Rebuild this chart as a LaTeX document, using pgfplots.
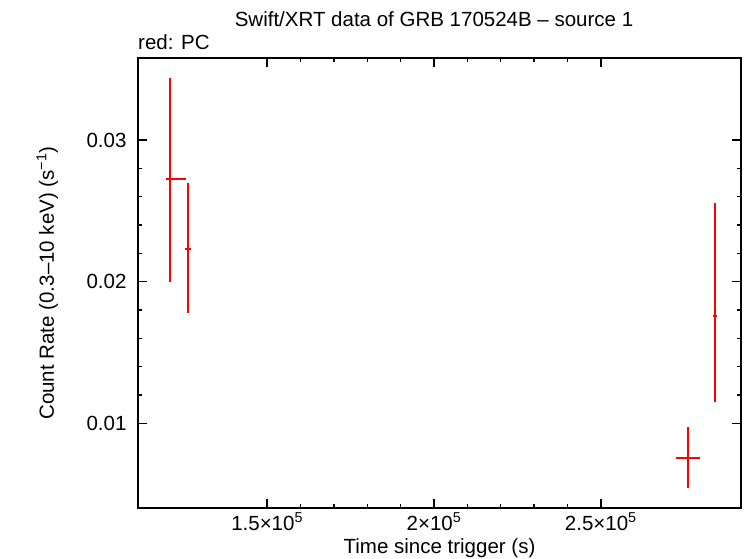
\documentclass[border=0pt]{standalone}
\usepackage{fontspec}
\setmainfont{Liberation Sans}
\usepackage{pgfplots}
\pgfplotsset{compat=1.18}
\begin{document}
\begin{tikzpicture}[x=1pt,y=1pt]
\useasboundingbox (-138pt,-50pt) rectangle (608pt,508pt);
\begin{axis}[
  at={(0pt,0pt)}, anchor=south west,
  scale only axis, width=603pt, height=450pt,
  xmin=111300, xmax=292000, ymin=0.00403, ymax=0.03579,
  axis line style={line width=1.3pt},
  tick style={line width=1.3pt, black},
  tick align=inside,
  major tick length=9pt, minor tick length=4.5pt,
  xtick={150000,200000,250000},
  xticklabels={1.5×10\textsuperscript{5},2×10\textsuperscript{5},2.5×10\textsuperscript{5}},
  scaled x ticks=false, scaled y ticks=false,
  minor x tick num=4,
  ytick={0.01,0.02,0.03},
  yticklabels={0.01,0.02,0.03},
  minor y tick num=4,
  tick label style={font=\fontsize{20.5}{24}\selectfont},
  label style={font=\fontsize{20.5}{24}\selectfont},
  xlabel={Time since trigger (s)},
  ylabel={Count Rate (0.3–10 keV) (s\textsuperscript{−1})},
  xlabel style={at={(axis description cs:0.5,0)}, anchor=base, yshift=-45pt},
  ylabel style={at={(axis description cs:0,0.5)}, anchor=base, yshift=84pt},
  xticklabel style={anchor=base, yshift=-22pt},
  yticklabel style={anchor=east, xshift=-8pt},
]
\addplot[draw=none, mark=none,
  error bars/.cd, x dir=both, x explicit, y dir=both, y explicit,
  error mark=none, error bar style={red, line width=2pt}]
coordinates {
  (120958,0.027226) += (4701,0.007128) -= (1407,0.007246)
  (126258,0.022308) += (898,0.004636) -= (1018,0.004538)
  (276047,0.00758) += (3593,0.002145) -= (3593,0.002118)
  (284131,0.01758) += (599,0.007953) -= (599,0.00609)
};
\end{axis}
\node[anchor=base, font=\fontsize{20.5}{24}\selectfont] at (296pt,481pt) {Swift/XRT data of GRB 170524B – source 1};
\node[anchor=base west, font=\fontsize{20.5}{24}\selectfont, inner sep=0pt] at (0pt,458pt) {red: PC};
\end{tikzpicture}
\end{document}
